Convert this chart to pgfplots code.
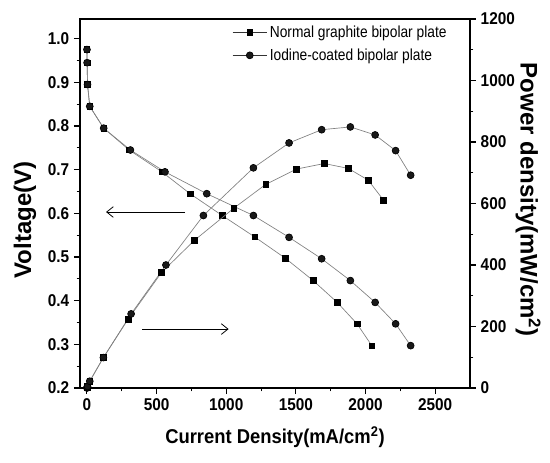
\documentclass[border=0pt]{standalone}
\usepackage{fontspec}
\setmainfont{Liberation Sans}
\newfontfamily\narrowfont[FakeStretch=0.9]{Liberation Sans}
\newfontfamily\legfont[FakeStretch=0.86]{Liberation Sans}
\newfontfamily\midfont[FakeStretch=0.92]{Liberation Sans}
\usepackage{pgfplots}
\pgfplotsset{compat=1.18}
\usetikzlibrary{arrows.meta,calc}

\pgfplotsset{
  base/.style={
    scale only axis, width=292.5pt, height=276.75pt,
    xmin=-50, xmax=2750,
    xtick={0,500,1000,1500,2000,2500}, minor x tick num=1,
    tick align=outside,
    major tick length=4.5pt, minor tick length=2.5pt,
    every tick/.style={black, line width=0.8pt},
    axis line style={line width=1pt},
    tick label style={font=\narrowfont\fontsize{12.8}{14}\selectfont\bfseries},
    /pgf/number format/assume math mode=true,
    /pgf/number format/1000 sep={},
  },
  sq/.style={color=gray, line width=0.5pt, mark=square*, mark size=2.1pt,
    mark options={draw=black, fill=black, solid}},
  ci/.style={color=gray, line width=0.5pt, mark=*, mark size=2.6pt,
    mark options={draw=black, fill=black!90, solid}},
}

\begin{document}
\begin{tikzpicture}
\begin{axis}[base, name=va,
  xtick pos=left, ytick pos=left,
  ymin=0.2, ymax=1.045,
  ytick={0.2,0.3,0.4,0.5,0.6,0.7,0.8,0.9,1.0}, minor y tick num=1,
  yticklabel style={/pgf/number format/fixed, /pgf/number format/fixed zerofill, /pgf/number format/precision=1},
  xlabel={Current Density(mA/cm\textsuperscript{2})},
  xlabel style={font=\midfont\fontsize{15}{18}\selectfont\bfseries, at={(axis description cs:0.5,-0.133)}, anchor=center},
  ylabel={Voltage(V)},
  ylabel style={font=\fontsize{18}{20}\selectfont\bfseries, at={(axis description cs:-0.141,0.455)}, anchor=center},
]
% normal graphite plate, voltage
\addplot[sq] coordinates {
  (0,0.975) (1,0.945) (4,0.895) (20,0.845) (120,0.795) (303,0.745) (538,0.695)
  (740,0.645) (971,0.595) (1204,0.546) (1425,0.497) (1624,0.446) (1797,0.396)
  (1939,0.347) (2045,0.297)};
% iodine coated plate, voltage
\addplot[ci] coordinates {
  (0,0.975) (1,0.945) (4,0.895) (20,0.845) (120,0.795) (312,0.745) (560,0.695)
  (860,0.645) (1195,0.595) (1451,0.545) (1685,0.496) (1891,0.446) (2069,0.396)
  (2216,0.347) (2324,0.297)};
\draw[-{Straight Barb[length=5pt,width=8pt]}, line width=0.6pt] (axis cs:704,0.603) -- (axis cs:137,0.603);
\draw[-{Straight Barb[length=5pt,width=8pt]}, line width=0.6pt] (axis cs:397,0.335) -- (axis cs:1017,0.335);
\end{axis}

\begin{axis}[base,
  axis y line*=right, axis x line=none,
  ymin=0, ymax=1200,
  ytick={0,200,400,600,800,1000,1200}, minor y tick num=1,
  ylabel={Power density(mW/cm\textsuperscript{2})},
  ylabel style={font=\fontsize{18}{20}\selectfont\bfseries, at={(axis description cs:1.149,0.51)}, anchor=center, rotate=180},
  legend style={at={(axis description cs:0.39,0.99)}, anchor=north west, draw=none, fill=none,
    font=\legfont\fontsize{12}{14}\selectfont, row sep=3pt, inner sep=0pt},
  legend cell align=left,
  legend image code/.code={\draw[mark repeat=2,mark phase=2,#1,color=black!80] plot coordinates {(0cm,0cm) (0.45cm,0cm) (0.9cm,0cm)};},
]
\addplot[sq] coordinates {
  (0,0) (1,2) (4,5) (20,22) (118,99) (296,224) (536,376) (771,480) (1055,585)
  (1283,662) (1505,712) (1704,730) (1877,714) (2019,676) (2129,611)};
\addlegendentry{Normal graphite bipolar plate}
\addplot[ci] coordinates {
  (0,0) (1,2) (4,5) (20,22) (118,99) (317,241) (567,400) (836,561) (1195,716)
  (1451,797) (1685,840) (1891,849) (2069,823) (2216,772) (2324,692)};
\addlegendentry{Iodine-coated bipolar plate}
\end{axis}
\pgfresetboundingbox
\path ($(va.south west)+(-60pt,-55.5pt)$) rectangle ($(va.north east)+(60pt,14.25pt)$);
\end{tikzpicture}
\end{document}
